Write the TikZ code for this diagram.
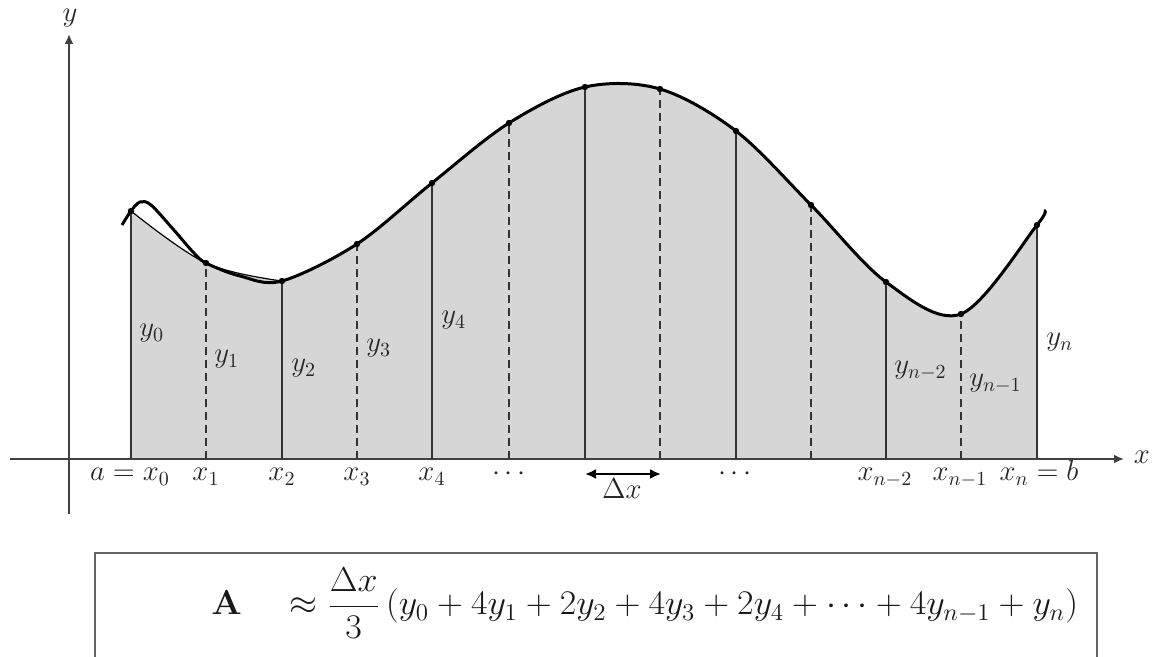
\documentclass[tikz,border=0pt]{standalone}
\usetikzlibrary{arrows.meta}
\begin{document}
\begin{tikzpicture}[x=0.5pt,y=-0.5pt,
  axis/.style={line width=1pt, draw=black!75},
  vline/.style={line width=0.7pt, draw=black!80},
  dline/.style={vline, dash pattern=on 4pt off 2.5pt},
  curve/.style={line width=1.5pt, draw=black},
  thin/.style={line width=0.6pt, draw=black},
  lbl/.style={font=\fontsize{14}{16}\selectfont, inner sep=0pt, anchor=base, text=black!85},
  ylbl/.style={lbl, anchor=base west},
  dot/.style={fill=black},
  formula/.style={font=\fontsize{18}{22}\selectfont, inner sep=0pt, anchor=base west, xscale=1.04, text=black!90}
]
\useasboundingbox (0,0) rectangle (1153,657);
\clip (0,0) rectangle (1153,657);

\foreach \i/\x/\y in {0/131/211, 1/206/263, 2/282/281, 3/357/244, 4/432/183, 5/509/123, 6/585/87, 7/660/89, 8/736/131, 9/811/205, 10/886/282, 11/961/314, 12/1037/225} {
  \coordinate (p\i) at (\x,\y);
  \coordinate (b\i) at (\x,459);
}

% shaded area
\fill[black!16] (b0) -- plot[smooth, tension=0.6] coordinates {(p0) (p1) (p2)}
  -- plot[smooth] coordinates {(p2) (p3) (p4) (p5) (p6) (p7) (p8) (p9) (p10) (p11) (p12)}
  -- (b12) -- cycle;

% axes
\coordinate (xs) at (10,459);
\coordinate (xe) at (1124,459);
\coordinate (ys) at (69,514);
\coordinate (ye) at (69,34);
\draw[axis, -{Latex[length=5pt,width=4.5pt]}] (xs) -- (xe);
\draw[axis, -{Latex[length=5pt,width=4.5pt]}] (ys) -- (ye);
\node[lbl, anchor=center] (xlab) at (1142,457) {$x$};
\node[lbl, anchor=center] (ylab) at (70,18) {$y$};

% ordinates
\foreach \i in {0,2,4,6,8,10,12} { \draw[vline] (b\i) -- (p\i); }
\foreach \i in {1,3,5,7,9,11} { \draw[dline] (b\i) -- (p\i); }

% parabolic approximation (thin)
\draw[thin] plot[smooth, tension=0.6] coordinates {(p0) (p1) (p2)};

% the curve
\draw[curve] plot[smooth, tension=0.55] coordinates {(122,225) (p0) (140,202) (151,205) (173,229) (193,252) (p1) (240,276) (p2) (p3) (p4) (p5) (p6) (p7) (p8) (p9) (p10) (p11) (p12) (1044,211)};

% dots
\foreach \i in {0,...,12} { \fill[dot] (p\i) circle (3.2); }

% y labels
\node[ylbl] (y0) at (139,337) {$y_0$};
\node[ylbl] (y1) at (214,363) {$y_1$};
\node[ylbl] (y2) at (291,372) {$y_2$};
\node[ylbl] (y3) at (366,352) {$y_3$};
\node[ylbl] (y4) at (441,324) {$y_4$};
\node[ylbl] (yn2) at (894,374) {$y_{n-2}$};
\node[ylbl] (yn1) at (969,387) {$y_{n-1}$};
\node[ylbl] (yn) at (1046,346) {$y_n$};

% x labels
\node[lbl] (x0) at (130,481) {$a=x_0$};
\node[lbl] (x1) at (206,481) {$x_1$};
\node[lbl] (x2) at (282,481) {$x_2$};
\node[lbl] (x3) at (357,481) {$x_3$};
\node[lbl] (x4) at (432,481) {$x_4$};
\node[lbl] (d1) at (509,481) {$\cdots$};
\node[lbl] (d2) at (735,481) {$\cdots$};
\node[lbl] (xn2) at (885,481) {$x_{n-2}$};
\node[lbl] (xn1) at (960,481) {$x_{n-1}$};
\node[lbl] (xn) at (1039,481) {$x_n=b$};

% delta x
\coordinate (da) at (585,474);
\coordinate (db) at (661,474);
\draw[line width=1.1pt, {Latex[length=5.5pt,width=5pt]}-{Latex[length=5.5pt,width=5pt]}] (da) -- (db);
\node[lbl] (dx) at (622,499) {$\Delta x$};

% formula box
\draw[line width=1.4pt, draw=black!60, fill=white] (95,553) rectangle (1097,700);
\node[formula] (f) at (211,615) {$\mathbf{A}\quad\approx\displaystyle\frac{\Delta x}{3}\left(y_0+4y_1+2y_2+4y_3+2y_4+\cdots+4y_{n-1}+y_n\right)$};
\end{tikzpicture}
\end{document}
